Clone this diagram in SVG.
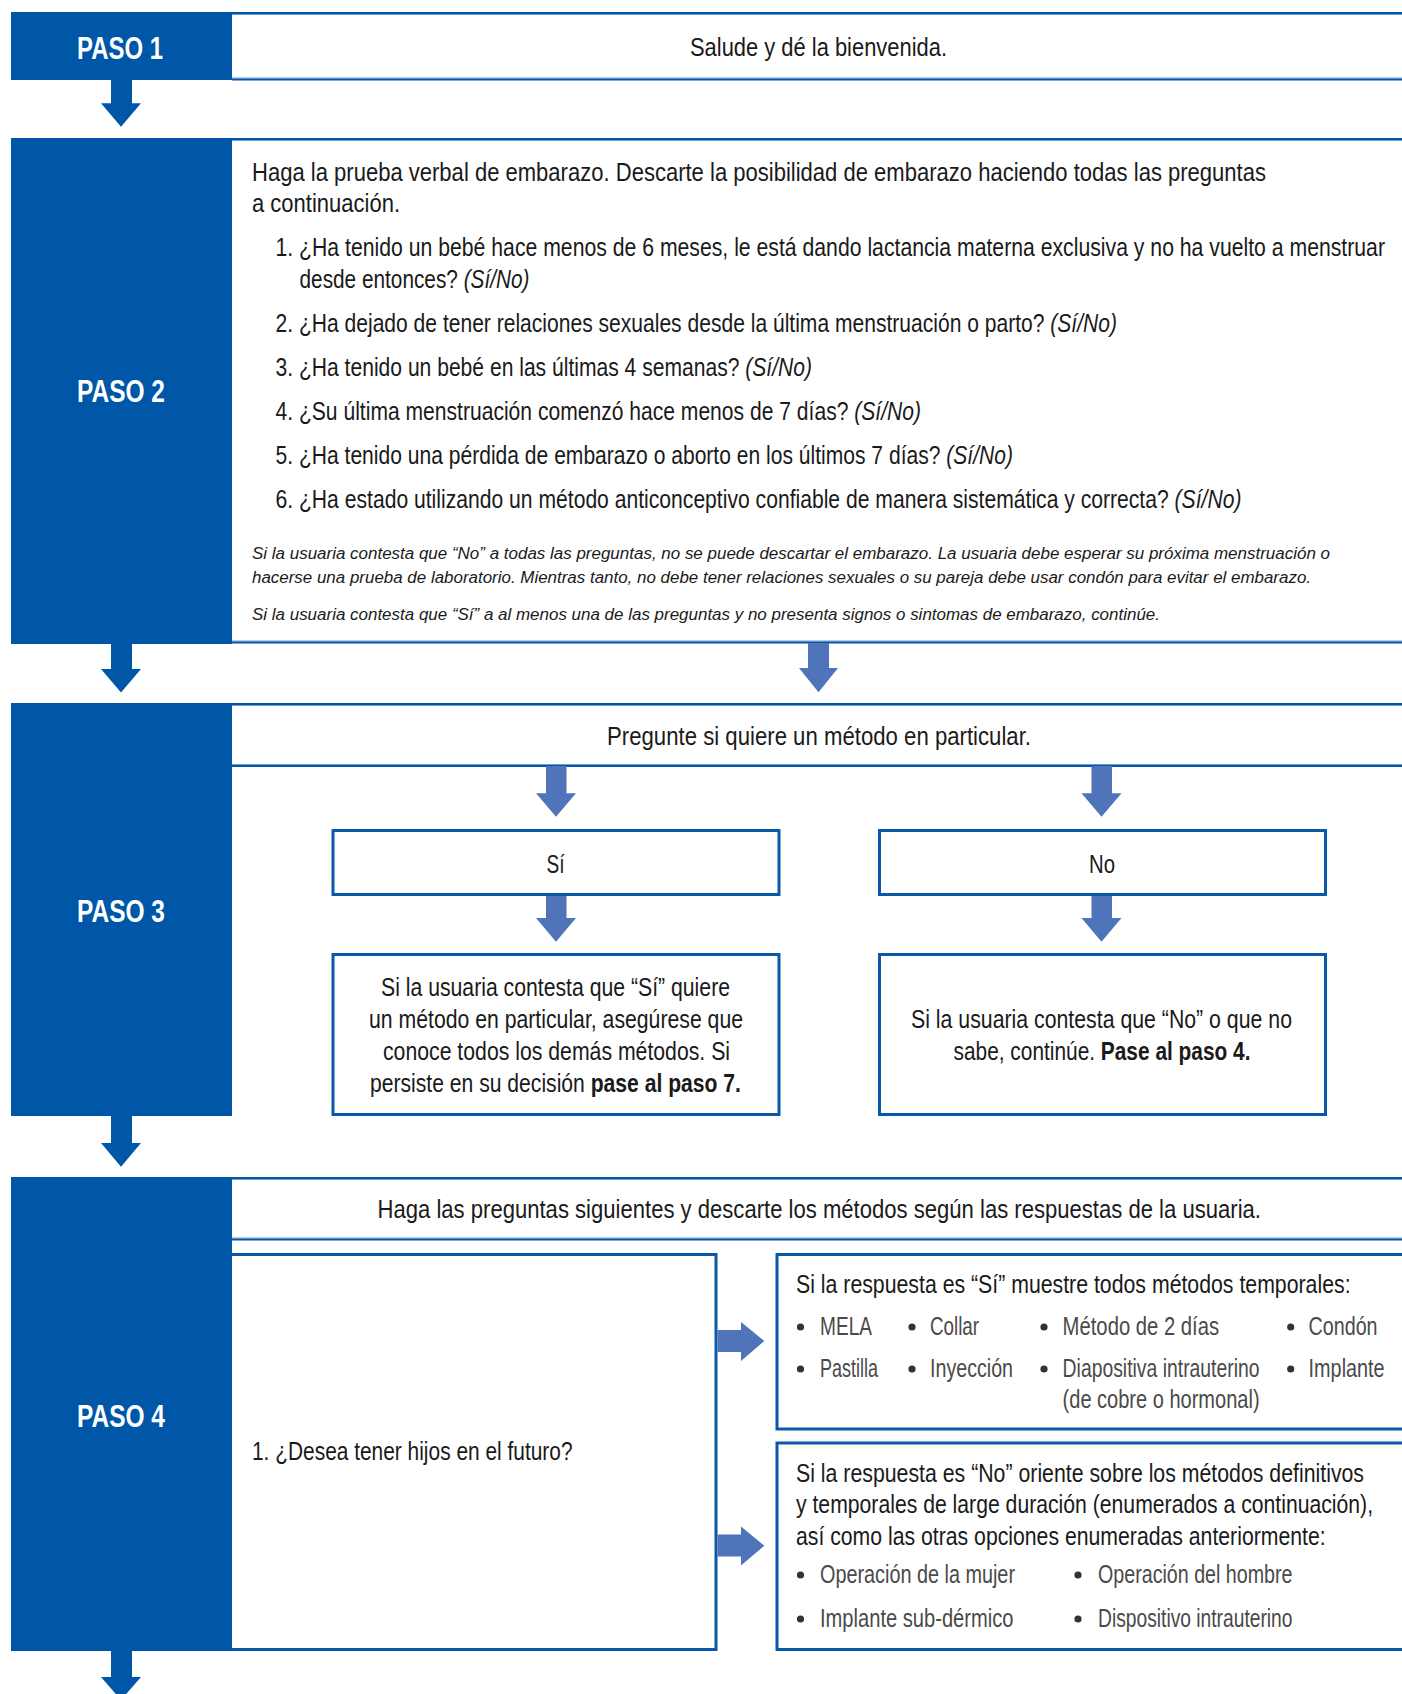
<svg xmlns="http://www.w3.org/2000/svg" width="1402" height="1694" viewBox="0 0 1402 1694">
<style>
text{font-family:"Liberation Sans",Arial,sans-serif;}
.paso{fill:#fff;font-size:31px;font-weight:bold;}
.t{fill:#1a1a1a;font-size:26px;}
.s{fill:#1a1a1a;font-size:17px;font-style:italic;}
.li{fill:#4a4a4a;font-size:25px;}
.it{font-style:italic;}
.b{font-weight:bold;}
.blk{fill:#0057a8;}
.ln{fill:#0057a8;}
.lt{fill:#6c9bd2;}
.box{fill:#fff;stroke:#0a58a8;stroke-width:3;}
.ad{fill:#0057a8;}
.al{fill:#4f74ba;}
.dot{fill:#333;}
</style>
<rect width="1402" height="1694" fill="#fff"/>

<!-- PASO 1 -->
<g id="paso1">
  <rect class="blk" x="11" y="12" width="221" height="68"/>
  <rect class="ln" x="232" y="12" width="1170" height="2"/>
  <rect class="lt" x="232" y="14" width="1170" height="1"/>
  <rect class="lt" x="232" y="77.5" width="1170" height="1"/>
  <rect class="ln" x="232" y="78.5" width="1170" height="2"/>
  <text class="paso" transform="matrix(.82 0 0 1 77 0)" y="59" textLength="104.9" lengthAdjust="spacingAndGlyphs">PASO 1</text>
  <text class="t" transform="matrix(.82 0 0 1 690 0)" y="56.5" textLength="313.4" lengthAdjust="spacingAndGlyphs">Salude y dé la bienvenida.</text>
</g>

<!-- PASO 2 -->
<g id="paso2">
  <rect class="blk" x="11" y="138" width="221" height="506"/>
  <rect class="ln" x="232" y="138" width="1170" height="2"/>
  <rect class="lt" x="232" y="140" width="1170" height="1"/>
  <rect class="lt" x="232" y="640.5" width="1170" height="1"/>
  <rect class="ln" x="232" y="641.5" width="1170" height="2"/>
  <text class="paso" transform="matrix(.82 0 0 1 77 0)" y="402" textLength="107.3" lengthAdjust="spacingAndGlyphs">PASO 2</text>
  <text class="t" transform="matrix(.82 0 0 1 252 0)" y="181" textLength="1236.6" lengthAdjust="spacingAndGlyphs">Haga la prueba verbal de embarazo. Descarte la posibilidad de embarazo haciendo todas las preguntas</text>
  <text class="t" transform="matrix(.82 0 0 1 252 0)" y="212" textLength="180.5" lengthAdjust="spacingAndGlyphs">a continuación.</text>
  <text class="t" transform="matrix(.82 0 0 1 275.5 0)" y="256.5" textLength="1353" lengthAdjust="spacingAndGlyphs">1. ¿Ha tenido un bebé hace menos de 6 meses, le está dando lactancia materna exclusiva y no ha vuelto a menstruar</text>
  <text class="t" transform="matrix(.82 0 0 1 299.5 0)" y="288" textLength="280.5" lengthAdjust="spacingAndGlyphs">desde entonces? <tspan class="it">(Sí/No)</tspan></text>
  <text class="t" transform="matrix(.82 0 0 1 275.5 0)" y="332" textLength="1026.2" lengthAdjust="spacingAndGlyphs">2. ¿Ha dejado de tener relaciones sexuales desde la última menstruación o parto? <tspan class="it">(Sí/No)</tspan></text>
  <text class="t" transform="matrix(.82 0 0 1 275.5 0)" y="376.5" textLength="654.3" lengthAdjust="spacingAndGlyphs">3. ¿Ha tenido un bebé en las últimas 4 semanas? <tspan class="it">(Sí/No)</tspan></text>
  <text class="t" transform="matrix(.82 0 0 1 275.5 0)" y="420" textLength="787.2" lengthAdjust="spacingAndGlyphs">4. ¿Su última menstruación comenzó hace menos de 7 días? <tspan class="it">(Sí/No)</tspan></text>
  <text class="t" transform="matrix(.82 0 0 1 275.5 0)" y="464" textLength="899.4" lengthAdjust="spacingAndGlyphs">5. ¿Ha tenido una pérdida de embarazo o aborto en los últimos 7 días? <tspan class="it">(Sí/No)</tspan></text>
  <text class="t" transform="matrix(.82 0 0 1 275.5 0)" y="508" textLength="1178" lengthAdjust="spacingAndGlyphs">6. ¿Ha estado utilizando un método anticonceptivo confiable de manera sistemática y correcta? <tspan class="it">(Sí/No)</tspan></text>
  <text class="s" transform="matrix(.82 0 0 1 252 0)" y="559" textLength="1314.6" lengthAdjust="spacingAndGlyphs">Si la usuaria contesta que “No” a todas las preguntas, no se puede descartar el embarazo. La usuaria debe esperar su próxima menstruación o</text>
  <text class="s" transform="matrix(.82 0 0 1 252 0)" y="583" textLength="1291.5" lengthAdjust="spacingAndGlyphs">hacerse una prueba de laboratorio. Mientras tanto, no debe tener relaciones sexuales o su pareja debe usar condón para evitar el embarazo.</text>
  <text class="s" transform="matrix(.82 0 0 1 252 0)" y="620.5" textLength="1107.3" lengthAdjust="spacingAndGlyphs">Si la usuaria contesta que “Sí” a al menos una de las preguntas y no presenta signos o sintomas de embarazo, continúe.</text>
</g>

<!-- PASO 3 -->
<g id="paso3">
  <rect class="blk" x="11" y="703" width="221" height="413"/>
  <rect class="ln" x="232" y="703" width="1170" height="2"/>
  <rect class="lt" x="232" y="705" width="1170" height="1"/>
  <rect class="lt" x="232" y="764" width="1170" height="1"/>
  <rect class="ln" x="232" y="765" width="1170" height="2"/>
  <text class="paso" transform="matrix(.82 0 0 1 77 0)" y="922" textLength="107.3" lengthAdjust="spacingAndGlyphs">PASO 3</text>
  <text class="t" transform="matrix(.82 0 0 1 607 0)" y="745" textLength="517.1" lengthAdjust="spacingAndGlyphs">Pregunte si quiere un método en particular.</text>
</g>
<g id="si">
  <rect class="box" x="333" y="830.5" width="446" height="64"/>
  <text class="t" transform="matrix(.82 0 0 1 546.5 0)" y="873" textLength="22" lengthAdjust="spacingAndGlyphs">Sí</text>
</g>
<g id="no">
  <rect class="box" x="879.5" y="830.5" width="446" height="64"/>
  <text class="t" transform="matrix(.82 0 0 1 1089 0)" y="873" textLength="31.7" lengthAdjust="spacingAndGlyphs">No</text>
</g>
<g id="si-detalle">
  <rect class="box" x="333" y="954.5" width="446" height="160"/>
  <text class="t" transform="matrix(.82 0 0 1 381 0)" y="996" textLength="425.6" lengthAdjust="spacingAndGlyphs">Si la usuaria contesta que “Sí” quiere</text>
  <text class="t" transform="matrix(.82 0 0 1 369 0)" y="1028" textLength="456.1" lengthAdjust="spacingAndGlyphs">un método en particular, asegúrese que</text>
  <text class="t" transform="matrix(.82 0 0 1 383 0)" y="1060" textLength="423.2" lengthAdjust="spacingAndGlyphs">conoce todos los demás métodos. Si</text>
  <text class="t" transform="matrix(.82 0 0 1 370 0)" y="1092" textLength="452.4" lengthAdjust="spacingAndGlyphs">persiste en su decisión <tspan class="b">pase al paso 7.</tspan></text>
</g>
<g id="no-detalle">
  <rect class="box" x="879.5" y="954.5" width="446" height="160"/>
  <text class="t" transform="matrix(.82 0 0 1 911 0)" y="1028" textLength="464.6" lengthAdjust="spacingAndGlyphs">Si la usuaria contesta que “No” o que no</text>
  <text class="t" transform="matrix(.82 0 0 1 953.5 0)" y="1060" textLength="362.2" lengthAdjust="spacingAndGlyphs">sabe, continúe. <tspan class="b">Pase al paso 4.</tspan></text>
</g>

<!-- PASO 4 -->
<g id="paso4">
  <rect class="blk" x="11" y="1177" width="221" height="474"/>
  <rect class="ln" x="232" y="1177" width="1170" height="2"/>
  <rect class="lt" x="232" y="1179" width="1170" height="1"/>
  <rect class="lt" x="232" y="1237.5" width="1170" height="1"/>
  <rect class="ln" x="232" y="1238.5" width="1170" height="2"/>
  <text class="paso" transform="matrix(.82 0 0 1 77 0)" y="1427" textLength="107.3" lengthAdjust="spacingAndGlyphs">PASO 4</text>
  <text class="t" transform="matrix(.82 0 0 1 377.5 0)" y="1218" textLength="1077.4" lengthAdjust="spacingAndGlyphs">Haga las preguntas siguientes y descarte los métodos según las respuestas de la usuaria.</text>
</g>
<g id="pregunta1">
  <path d="M232 1254.5 H716 V1649.5 H232" fill="none" stroke="#0a58a8" stroke-width="3"/>
  <text class="t" transform="matrix(.82 0 0 1 252 0)" y="1460" textLength="390.9" lengthAdjust="spacingAndGlyphs">1. ¿Desea tener hijos en el futuro?</text>
</g>
<g id="respuesta-si">
  <path d="M1402 1254.5 H777 V1429 H1402" fill="none" stroke="#0a58a8" stroke-width="3"/>
  <text class="t" transform="matrix(.82 0 0 1 796 0)" y="1293" textLength="676.3" lengthAdjust="spacingAndGlyphs">Si la respuesta es “Sí” muestre todos métodos temporales:</text>
  <circle class="dot" cx="800.5" cy="1327" r="3.6"/>
  <text class="li" transform="matrix(.82 0 0 1 820 0)" y="1335" textLength="63.4" lengthAdjust="spacingAndGlyphs">MELA</text>
  <circle class="dot" cx="912" cy="1327" r="3.6"/>
  <text class="li" transform="matrix(.82 0 0 1 930 0)" y="1335" textLength="59.8" lengthAdjust="spacingAndGlyphs">Collar</text>
  <circle class="dot" cx="1044" cy="1327" r="3.6"/>
  <text class="li" transform="matrix(.82 0 0 1 1062.6 0)" y="1335" textLength="190.9" lengthAdjust="spacingAndGlyphs">Método de 2 días</text>
  <circle class="dot" cx="1290.7" cy="1327" r="3.6"/>
  <text class="li" transform="matrix(.82 0 0 1 1308.6 0)" y="1335" textLength="84.1" lengthAdjust="spacingAndGlyphs">Condón</text>
  <circle class="dot" cx="800.5" cy="1369" r="3.6"/>
  <text class="li" transform="matrix(.82 0 0 1 820 0)" y="1377" textLength="70.7" lengthAdjust="spacingAndGlyphs">Pastilla</text>
  <circle class="dot" cx="912" cy="1369" r="3.6"/>
  <text class="li" transform="matrix(.82 0 0 1 930 0)" y="1377" textLength="101.2" lengthAdjust="spacingAndGlyphs">Inyección</text>
  <circle class="dot" cx="1044" cy="1369" r="3.6"/>
  <text class="li" transform="matrix(.82 0 0 1 1062.6 0)" y="1377" textLength="240.2" lengthAdjust="spacingAndGlyphs">Diapositiva intrauterino</text>
  <circle class="dot" cx="1290.7" cy="1369" r="3.6"/>
  <text class="li" transform="matrix(.82 0 0 1 1308.6 0)" y="1377" textLength="92.7" lengthAdjust="spacingAndGlyphs">Implante</text>
  <text class="li" transform="matrix(.82 0 0 1 1062.6 0)" y="1408" textLength="240.2" lengthAdjust="spacingAndGlyphs">(de cobre o hormonal)</text>
</g>
<g id="respuesta-no">
  <path d="M1402 1443 H777 V1649.5 H1402" fill="none" stroke="#0a58a8" stroke-width="3"/>
  <text class="t" transform="matrix(.82 0 0 1 796 0)" y="1482" textLength="692.7" lengthAdjust="spacingAndGlyphs">Si la respuesta es “No” oriente sobre los métodos definitivos</text>
  <text class="t" transform="matrix(.82 0 0 1 796 0)" y="1513" textLength="703.7" lengthAdjust="spacingAndGlyphs">y temporales de large duración (enumerados a continuación),</text>
  <text class="t" transform="matrix(.82 0 0 1 796 0)" y="1545" textLength="645.9" lengthAdjust="spacingAndGlyphs">así como las otras opciones enumeradas anteriormente:</text>
  <circle class="dot" cx="800.5" cy="1575" r="3.6"/>
  <text class="li" transform="matrix(.82 0 0 1 820 0)" y="1583" textLength="237.8" lengthAdjust="spacingAndGlyphs">Operación de la mujer</text>
  <circle class="dot" cx="1078" cy="1575" r="3.6"/>
  <text class="li" transform="matrix(.82 0 0 1 1098 0)" y="1583" textLength="237.2" lengthAdjust="spacingAndGlyphs">Operación del hombre</text>
  <circle class="dot" cx="800.5" cy="1619" r="3.6"/>
  <text class="li" transform="matrix(.82 0 0 1 820 0)" y="1627" textLength="236" lengthAdjust="spacingAndGlyphs">Implante sub-dérmico</text>
  <circle class="dot" cx="1078" cy="1619" r="3.6"/>
  <text class="li" transform="matrix(.82 0 0 1 1098 0)" y="1627" textLength="237.2" lengthAdjust="spacingAndGlyphs">Dispositivo intrauterino</text>
</g>

<!-- connectors -->
<g id="connectors">
  <path class="ad" d="M111 80 H132 V103.3 H141 L121 126.7 L101 103.3 H111 Z"/>
  <path class="ad" d="M111 644 H132 V669 H141 L121 692.5 L101 669 H111 Z"/>
  <path class="al" d="M808 643 H829 V668 H838 L818.5 692.3 L799 668 H808 Z"/>
  <path class="al" d="M546 766 H566.5 V793.3 H576 L556 816.7 L536 793.3 H546 Z"/>
  <path class="al" d="M1091.5 766 H1112 V793.3 H1121.5 L1101.5 816.7 L1081.5 793.3 H1091.5 Z"/>
  <path class="al" d="M546 896 H566.5 V918 H576 L556 941.7 L536 918 H546 Z"/>
  <path class="al" d="M1091.5 896 H1112 V918 H1121.5 L1101.5 941.7 L1081.5 918 H1091.5 Z"/>
  <path class="ad" d="M111 1116 H132 V1143 H141 L121 1166.7 L101 1143 H111 Z"/>
  <path class="ad" d="M111 1651 H132 V1677 H141 L121 1700 L101 1677 H111 Z"/>
  <path class="al" d="M717.5 1330 V1352 H741 V1361 L764.3 1341 L741 1322 V1330 Z"/>
  <path class="al" d="M717.5 1534.5 V1556.5 H741 V1565.5 L764.3 1545.7 L741 1526.5 V1534.5 Z"/>
</g>
</svg>
